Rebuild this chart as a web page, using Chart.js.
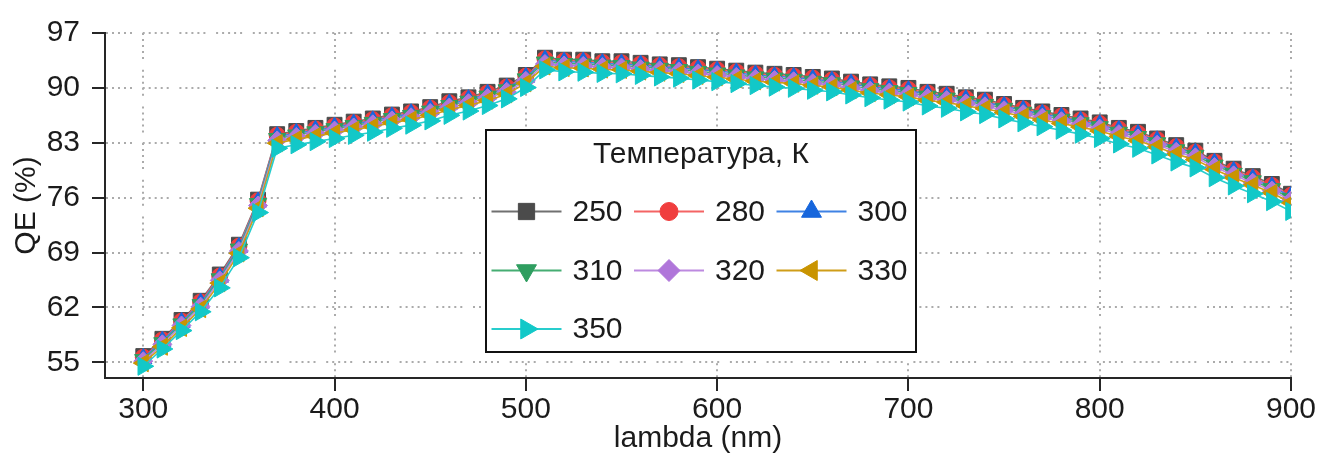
<!DOCTYPE html>
<html>
<head>
<meta charset="utf-8">
<script src="https://cdn.jsdelivr.net/npm/chart.js@4.4.1/dist/chart.umd.min.js"></script>
<style>
  html, body { margin: 0; padding: 0; background: #ffffff; }
  #wrap { width: 1322px; height: 461px; }
</style>
</head>
<body>
<div id="wrap"><canvas id="qeChart" width="1322" height="461"></canvas></div>
<script>
// Wavelength grid (nm)
const wavelengthNm = [300,310,320,330,340,350,360,370,380,390,400,410,420,430,440,450,460,470,480,490,
  500,510,520,530,540,550,560,570,580,590,600,610,620,630,640,650,660,670,680,690,
  700,710,720,730,740,750,760,770,780,790,800,810,820,830,840,850,860,870,880,890,900];

// Quantum efficiency (%) per temperature
const qe250 = [55.8, 58.0, 60.4, 62.85, 66.2, 70.0, 75.75, 84.1, 84.5, 84.9, 85.3, 85.7, 86.1, 86.6, 87.0, 87.55,
  88.3, 88.8, 89.5, 90.3, 91.65, 93.85, 93.6, 93.6, 93.4, 93.4, 93.2, 93.0, 92.9, 92.65, 92.45, 92.2,
  91.95, 91.8, 91.65, 91.4, 91.2, 90.8, 90.45, 90.2, 90.0, 89.5, 89.25, 88.8, 88.5, 87.95, 87.45, 87.0,
  86.55, 86.1, 85.6, 84.9, 84.4, 83.55, 82.7, 82.0, 80.7, 79.7, 78.75, 77.75, 76.5];
const qe280 = [55.65, 57.85, 60.25, 62.7, 66.0, 69.8, 75.6, 83.95, 84.35, 84.75, 85.15, 85.55, 85.95, 86.45, 86.85, 87.4,
  88.1, 88.65, 89.35, 90.1, 91.5, 93.7, 93.45, 93.45, 93.25, 93.2, 93.05, 92.85, 92.7, 92.5, 92.3, 92.05,
  91.8, 91.6, 91.5, 91.25, 91.0, 90.65, 90.3, 90.0, 89.8, 89.35, 89.05, 88.65, 88.3, 87.8, 87.3, 86.8,
  86.4, 85.9, 85.45, 84.75, 84.2, 83.4, 82.5, 81.8, 80.55, 79.5, 78.55, 77.55, 76.3];
const qe300 = [55.5, 57.7, 60.1, 62.55, 65.85, 69.65, 75.45, 83.8, 84.2, 84.6, 85.0, 85.4, 85.8, 86.3, 86.7, 87.25,
  87.95, 88.5, 89.2, 89.95, 91.35, 93.55, 93.3, 93.3, 93.1, 93.05, 92.9, 92.7, 92.55, 92.35, 92.15, 91.9,
  91.65, 91.45, 91.35, 91.1, 90.85, 90.5, 90.15, 89.85, 89.65, 89.2, 88.9, 88.5, 88.15, 87.65, 87.15, 86.65,
  86.25, 85.75, 85.3, 84.6, 84.05, 83.25, 82.35, 81.65, 80.4, 79.35, 78.4, 77.4, 76.15];
const qe310 = [55.35, 57.5, 59.9, 62.35, 65.65, 69.45, 75.25, 83.55, 84.0, 84.4, 84.8, 85.2, 85.6, 86.1, 86.5, 87.05,
  87.75, 88.3, 88.95, 89.75, 91.15, 93.3, 93.1, 93.05, 92.9, 92.85, 92.65, 92.5, 92.35, 92.1, 91.9, 91.65,
  91.4, 91.25, 91.1, 90.85, 90.65, 90.25, 89.9, 89.65, 89.4, 88.95, 88.7, 88.25, 87.9, 87.4, 86.9, 86.45,
  86.0, 85.55, 85.05, 84.35, 83.8, 83.0, 82.1, 81.4, 80.15, 79.1, 78.15, 77.15, 75.9];
const qe320 = [55.15, 57.3, 59.7, 62.1, 65.45, 69.2, 75.0, 83.3, 83.75, 84.15, 84.55, 84.95, 85.35, 85.85, 86.25, 86.8,
  87.5, 88.05, 88.7, 89.5, 90.9, 93.05, 92.85, 92.8, 92.65, 92.6, 92.4, 92.25, 92.1, 91.85, 91.65, 91.4,
  91.15, 91.0, 90.85, 90.6, 90.4, 90.0, 89.65, 89.4, 89.15, 88.7, 88.45, 88.0, 87.65, 87.15, 86.65, 86.2,
  85.75, 85.3, 84.8, 84.1, 83.55, 82.75, 81.85, 81.15, 79.9, 78.85, 77.9, 76.9, 75.65];
const qe330 = [54.9, 57.0, 59.4, 61.8, 65.1, 68.9, 74.65, 82.95, 83.45, 83.85, 84.25, 84.65, 85.05, 85.55, 85.95, 86.5,
  87.2, 87.75, 88.4, 89.2, 90.6, 92.75, 92.55, 92.5, 92.35, 92.3, 92.1, 91.95, 91.8, 91.55, 91.35, 91.1,
  90.85, 90.7, 90.55, 90.3, 90.1, 89.7, 89.35, 89.1, 88.85, 88.4, 88.15, 87.7, 87.35, 86.85, 86.35, 85.9,
  85.45, 85.0, 84.5, 83.8, 83.25, 82.45, 81.55, 80.85, 79.6, 78.55, 77.6, 76.6, 75.35];
const qe350 = [54.5, 56.7, 59.05, 61.45, 64.5, 68.35, 74.1, 82.3, 82.75, 83.15, 83.55, 83.95, 84.35, 84.85, 85.25, 85.8,
  86.5, 87.05, 87.75, 88.6, 90.05, 92.3, 92.05, 92.0, 91.85, 91.8, 91.6, 91.4, 91.25, 91.0, 90.8, 90.55,
  90.3, 90.1, 89.95, 89.7, 89.5, 89.1, 88.75, 88.45, 88.2, 87.7, 87.4, 86.95, 86.6, 86.05, 85.55, 85.05,
  84.6, 84.1, 83.55, 82.85, 82.3, 81.45, 80.55, 79.8, 78.55, 77.5, 76.5, 75.5, 74.25];

const temperatureLabels = ['250', '280', '300', '310', '320', '330', '350'];
const xTickValues = [300, 400, 500, 600, 700, 800, 900];
const yTickValues = [55, 62, 69, 76, 83, 90, 97];

const legendTitle = 'Температура, К';
const xAxisTitle = 'lambda (nm)';
const yAxisTitle = 'QE (%)';

// Series styling: marker colour, line colour, marker shape
const seriesValues = [qe250, qe280, qe300, qe310, qe320, qe330, qe350];
const seriesStyles = [
  { fill: '#4b4b4b', line: '#707070', shape: 'rect',     rot: 0,   r: 10.5, lr: 11.5 },
  { fill: '#f03e3e', line: '#f46464', shape: 'circle',   rot: 0,   r: 8,    lr: 9 },
  { fill: '#1766dc', line: '#3f82e4', shape: 'triangle', rot: 0,   r: 10,   lr: 11.5 },
  { fill: '#2f9e60', line: '#45ad72', shape: 'triangle', rot: 180, r: 10,   lr: 11.5 },
  { fill: '#b076da', line: '#bd8ae0', shape: 'rectRot',  rot: 0,   r: 9.5,  lr: 11 },
  { fill: '#c99400', line: '#cf9d18', shape: 'triangle', rot: 270, r: 10,   lr: 11.5 },
  { fill: '#12c8c8', line: '#28cdcd', shape: 'triangle', rot: 90,  r: 10.5, lr: 11.5 }
];

const FONT = "'Liberation Sans', Arial, sans-serif";
const TEXT = '#1b1b1b';
const AXIS = '#262626';
const GRID_DOTS = [2, 4, 2, 4, 2, 4, 2, 4, 2, 10.7];

const datasets = seriesValues.map((vals, i) => {
  const s = seriesStyles[i];
  return {
    label: temperatureLabels[i],
    data: wavelengthNm.map((w, k) => ({ x: w, y: vals[k] })),
    borderColor: s.line,
    borderWidth: 1.6,
    backgroundColor: s.fill,
    pointStyle: s.shape,
    pointRotation: s.rot,
    pointRadius: s.r,
    pointBackgroundColor: s.fill,
    pointBorderColor: s.fill,
    pointBorderWidth: 1,
    tension: 0,
    order: seriesValues.length - i
  };
});

// Boxed legend with title, drawn inside the plot area
const legendBox = { left: 486, top: 130, width: 430, height: 222 };
const legendLayout = { titleY: 155, rowY: [211.5, 270.5, 329], colX: [526.5, 669, 811.5], lineHalf: 35, textGap: 46, cols: 3 };

const temperatureLegend = {
  id: 'temperatureLegend',
  afterDraw(chart) {
    const ctx = chart.ctx;
    ctx.save();
    ctx.fillStyle = '#ffffff';
    ctx.fillRect(legendBox.left, legendBox.top, legendBox.width, legendBox.height);
    ctx.lineWidth = 2;
    ctx.strokeStyle = '#111111';
    ctx.strokeRect(legendBox.left, legendBox.top, legendBox.width, legendBox.height);

    ctx.font = '30px ' + FONT;
    ctx.fillStyle = TEXT;
    ctx.textAlign = 'center';
    ctx.textBaseline = 'middle';
    ctx.fillText(legendTitle, legendBox.left + legendBox.width / 2, legendLayout.titleY);

    chart.data.datasets.forEach((ds, i) => {
      const s = seriesStyles[i];
      const cx = legendLayout.colX[i % legendLayout.cols];
      const cy = legendLayout.rowY[Math.floor(i / legendLayout.cols)];
      ctx.beginPath();
      ctx.lineWidth = 2;
      ctx.strokeStyle = s.line;
      ctx.moveTo(cx - legendLayout.lineHalf, cy);
      ctx.lineTo(cx + legendLayout.lineHalf, cy);
      ctx.stroke();

      ctx.fillStyle = s.fill;
      ctx.strokeStyle = s.fill;
      ctx.lineWidth = 1;
      Chart.helpers.drawPoint(ctx, { pointStyle: s.shape, rotation: s.rot, radius: s.lr, borderWidth: 1 }, cx, cy);

      ctx.fillStyle = TEXT;
      ctx.textAlign = 'left';
      ctx.textBaseline = 'middle';
      ctx.font = '30px ' + FONT;
      ctx.fillText(ds.label, cx + legendLayout.textGap, cy + 1);
    });
    ctx.restore();
  }
};

new Chart(document.getElementById('qeChart'), {
  type: 'line',
  data: { datasets },
  options: {
    responsive: false,
    animation: false,
    devicePixelRatio: 1,
    layout: { padding: { left: 0, right: 31, top: 33, bottom: 0 } },
    plugins: { legend: { display: false }, tooltip: { enabled: false } },
    scales: {
      x: {
        type: 'linear',
        min: 280,
        max: 900,
        afterBuildTicks: (scale) => { scale.ticks = xTickValues.map(v => ({ value: v })); },
        afterFit: (scale) => { scale.height = 83; },
        ticks: { font: { family: FONT, size: 30 }, color: TEXT, padding: 1, maxRotation: 0, autoSkip: false },
        grid: { color: '#ababab', lineWidth: 2, tickLength: 13, tickColor: AXIS, tickWidth: 2, tickBorderDash: [] },
        border: { display: true, color: AXIS, width: 2, dash: GRID_DOTS },
        title: { display: true, text: xAxisTitle, font: { family: FONT, size: 30 }, color: TEXT, padding: { top: 0, bottom: 4 } }
      },
      y: {
        type: 'linear',
        min: 53,
        max: 97,
        afterBuildTicks: (scale) => { scale.ticks = yTickValues.map(v => ({ value: v })); },
        afterFit: (scale) => { scale.width = 105; },
        ticks: { font: { family: FONT, size: 30 }, color: TEXT, padding: 12 },
        grid: { color: '#ababab', lineWidth: 2, tickLength: 13, tickColor: AXIS, tickWidth: 2, tickBorderDash: [] },
        border: { display: true, color: AXIS, width: 2, dash: GRID_DOTS },
        title: { display: true, text: yAxisTitle, font: { family: FONT, size: 30 }, color: TEXT, padding: { top: 9, bottom: 0 } }
      }
    }
  },
  plugins: [temperatureLegend]
});
</script>
</body>
</html>
